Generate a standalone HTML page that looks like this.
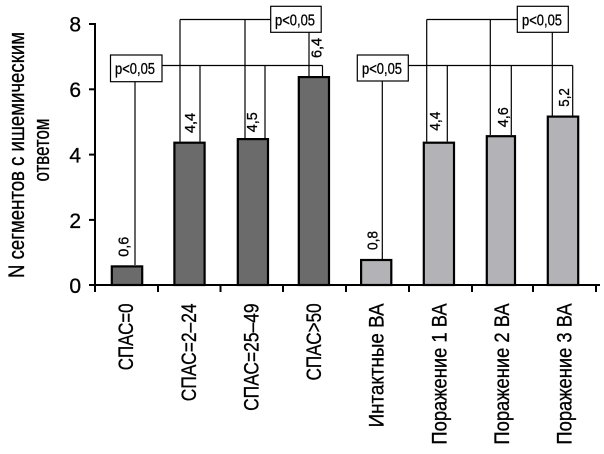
<!DOCTYPE html>
<html><head><meta charset="utf-8"><style>
html,body{margin:0;padding:0;background:#fff;}
svg{display:block;}
text{font-family:"Liberation Sans",Arial,sans-serif;fill:#000;stroke:#000;stroke-width:0.3;}
</style></head><body>
<svg width="604" height="454" viewBox="0 0 604 454" xmlns="http://www.w3.org/2000/svg">
<rect width="604" height="454" fill="#fff"/>
<!-- Y axis title -->
<text transform="translate(24,155) rotate(-90)" text-anchor="middle" font-size="22" textLength="246" lengthAdjust="spacingAndGlyphs">N сегментов с ишемическим</text>
<text transform="translate(49,150) rotate(-90)" text-anchor="middle" font-size="22" textLength="63" lengthAdjust="spacingAndGlyphs">ответом</text>
<!-- Y tick labels -->
<g font-size="21" text-anchor="end">
<text x="81" y="31.5">8</text>
<text x="81" y="97">6</text>
<text x="81" y="162.5">4</text>
<text x="81" y="228">2</text>
<text x="81" y="293">0</text>
</g>
<!-- bars -->
<g stroke="#000" stroke-width="2.2">
<rect x="111.8" y="266.4" width="30.4" height="18.6" fill="#6b6b6b"/>
<rect x="174.4" y="142.7" width="30.2" height="142.3" fill="#6b6b6b"/>
<rect x="237.8" y="139.1" width="30.2" height="145.9" fill="#6b6b6b"/>
<rect x="298.8" y="77.1" width="30.2" height="207.9" fill="#6b6b6b"/>
<rect x="361.1" y="260" width="30.2" height="25" fill="#b3b3b7"/>
<rect x="423.8" y="142.7" width="30.2" height="142.3" fill="#b3b3b7"/>
<rect x="486.8" y="136.2" width="28.2" height="148.8" fill="#b3b3b7"/>
<rect x="547.8" y="116.6" width="30.4" height="168.4" fill="#b3b3b7"/>
</g>
<!-- axes -->
<g stroke="#000" stroke-width="2" fill="none">
<line x1="95" y1="23" x2="95" y2="286"/>
<line x1="94" y1="285" x2="600" y2="285"/>
<line x1="89" y1="24" x2="95" y2="24"/>
<line x1="89" y1="89.3" x2="95" y2="89.3"/>
<line x1="89" y1="154.6" x2="95" y2="154.6"/>
<line x1="89" y1="219.9" x2="95" y2="219.9"/>
<line x1="89" y1="285" x2="95" y2="285"/>
<line x1="95" y1="285" x2="95" y2="292"/>
<line x1="158" y1="285" x2="158" y2="292"/>
<line x1="220.5" y1="285" x2="220.5" y2="292"/>
<line x1="283" y1="285" x2="283" y2="292"/>
<line x1="346" y1="285" x2="346" y2="292"/>
<line x1="409" y1="285" x2="409" y2="292"/>
<line x1="472" y1="285" x2="472" y2="292"/>
<line x1="533" y1="285" x2="533" y2="292"/>
<line x1="596" y1="285" x2="596" y2="292"/>
</g>
<!-- significance lines -->
<g stroke="#000" stroke-width="1.2" fill="none">
<line x1="162" y1="65.5" x2="322.5" y2="65.5"/>
<line x1="135" y1="81.7" x2="135" y2="265"/>
<line x1="200" y1="65.5" x2="200" y2="141.6"/>
<line x1="265" y1="65.5" x2="265" y2="138"/>
<line x1="322.5" y1="65.5" x2="322.5" y2="76"/>
<line x1="180" y1="19.5" x2="270.7" y2="19.5"/>
<line x1="180" y1="19.5" x2="180" y2="141.6"/>
<line x1="245" y1="19.5" x2="245" y2="138"/>
<line x1="309" y1="32.3" x2="309" y2="76"/>
<line x1="408.3" y1="65.5" x2="572.7" y2="65.5"/>
<line x1="382.3" y1="81" x2="382.3" y2="259"/>
<line x1="447.3" y1="65.5" x2="447.3" y2="141.6"/>
<line x1="511.3" y1="65.5" x2="511.3" y2="135"/>
<line x1="572.7" y1="65.5" x2="572.7" y2="115.5"/>
<line x1="426.7" y1="19.5" x2="517.3" y2="19.5"/>
<line x1="426.7" y1="19.5" x2="426.7" y2="141.6"/>
<line x1="490.3" y1="19.5" x2="490.3" y2="135"/>
<line x1="552.3" y1="32.3" x2="552.3" y2="115.5"/>
</g>
<!-- p boxes -->
<g stroke="#000" stroke-width="1.2" fill="#fff">
<rect x="110.5" y="55" width="51.5" height="26.7"/>
<rect x="270.7" y="6.3" width="50.5" height="26"/>
<rect x="357.3" y="55" width="51" height="26"/>
<rect x="517.3" y="6.3" width="51" height="26"/>
</g>
<g font-size="15.5">
<text x="115" y="74" textLength="40" lengthAdjust="spacingAndGlyphs">p&lt;0,05</text>
<text x="275" y="25.3" textLength="40" lengthAdjust="spacingAndGlyphs">p&lt;0,05</text>
<text x="362" y="74" textLength="40" lengthAdjust="spacingAndGlyphs">p&lt;0,05</text>
<text x="522" y="25.3" textLength="40" lengthAdjust="spacingAndGlyphs">p&lt;0,05</text>
</g>
<!-- value labels -->
<g font-size="15">
<text transform="translate(128.5,256.7) rotate(-90)" textLength="20" lengthAdjust="spacingAndGlyphs">0,6</text>
<text transform="translate(195,133) rotate(-90)" textLength="20" lengthAdjust="spacingAndGlyphs">4,4</text>
<text transform="translate(256.8,132.3) rotate(-90)" textLength="20" lengthAdjust="spacingAndGlyphs">4,5</text>
<text transform="translate(321.5,58) rotate(-90)" textLength="20" lengthAdjust="spacingAndGlyphs">6,4</text>
<text transform="translate(377.5,250) rotate(-90)" textLength="19" lengthAdjust="spacingAndGlyphs">0,8</text>
<text transform="translate(440.2,130.7) rotate(-90)" textLength="19" lengthAdjust="spacingAndGlyphs">4,4</text>
<text transform="translate(507.8,127.3) rotate(-90)" textLength="20" lengthAdjust="spacingAndGlyphs">4,6</text>
<text transform="translate(569.2,106.7) rotate(-90)" textLength="18.5" lengthAdjust="spacingAndGlyphs">5,2</text>
</g>
<!-- category labels -->
<g font-size="21" text-anchor="end">
<text transform="translate(133,303.4) rotate(-90)" textLength="66.8" lengthAdjust="spacingAndGlyphs">СПАС=0</text>
<text transform="translate(196,303.4) rotate(-90)" textLength="97.8" lengthAdjust="spacingAndGlyphs">СПАС=2–24</text>
<text transform="translate(258.5,303.4) rotate(-90)" textLength="107.5" lengthAdjust="spacingAndGlyphs">СПАС=25–49</text>
<text transform="translate(321,303.4) rotate(-90)" textLength="77.1" lengthAdjust="spacingAndGlyphs">СПАС&gt;50</text>
<text transform="translate(383.7,303.4) rotate(-90)" textLength="124" lengthAdjust="spacingAndGlyphs">Интактные ВА</text>
<text transform="translate(446.3,303.4) rotate(-90)" textLength="141.2" lengthAdjust="spacingAndGlyphs">Поражение 1 ВА</text>
<text transform="translate(508.9,303.4) rotate(-90)" textLength="141.2" lengthAdjust="spacingAndGlyphs">Поражение 2 ВА</text>
<text transform="translate(571.5,303.4) rotate(-90)" textLength="141.2" lengthAdjust="spacingAndGlyphs">Поражение 3 ВА</text>
</g>
</svg>
</body></html>
